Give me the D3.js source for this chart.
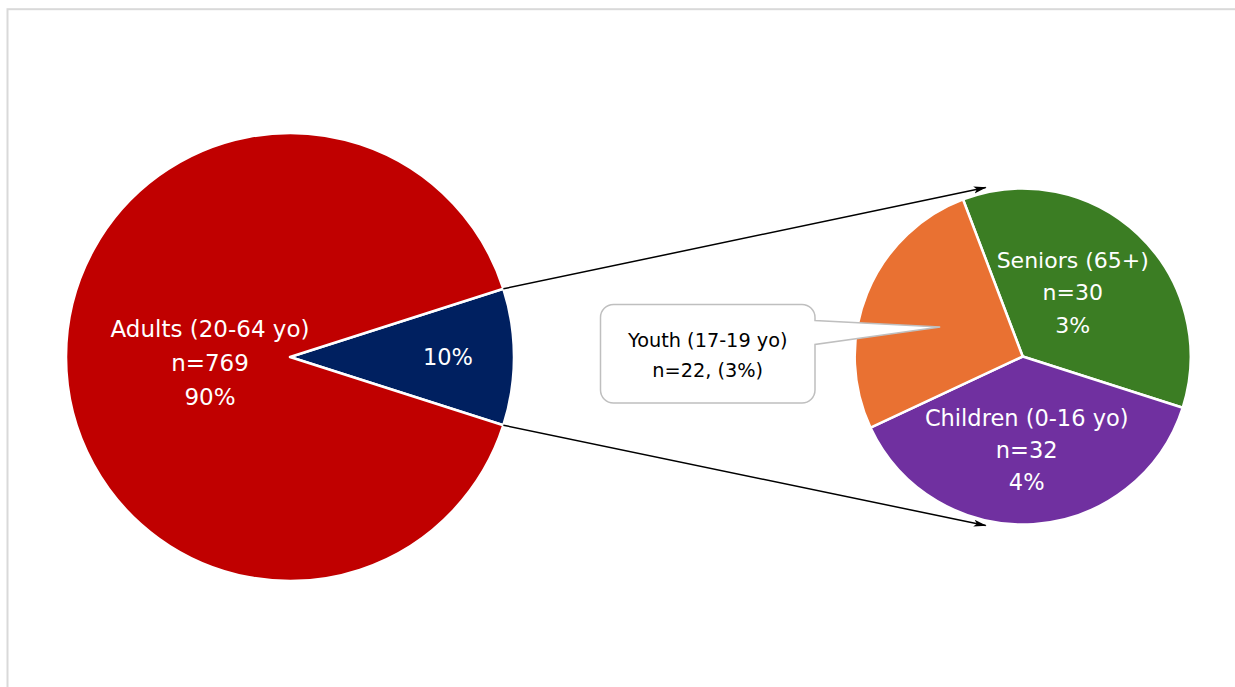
<!DOCTYPE html>
<html>
<head>
<meta charset="utf-8">
<script src="https://cdn.jsdelivr.net/npm/d3@7"></script>
<style>
  html, body { margin: 0; padding: 0; background: #fff; }
  svg { display: block; font-family: "DejaVu Sans", "Noto Sans", sans-serif; }
</style>
</head>
<body>
<svg id="chart" width="1235" height="687"></svg>
<script>
// Age groups of the full sample; the three smaller groups are split out into the second pie
const mainCategories = ["Other ages", "Adults (20-64 yo)"];
const mainCounts = [84, 769];
const mainColors = ["#002060", "#C00000"];

const detailCategories = ["Seniors (65+)", "Children (0-16 yo)", "Youth (17-19 yo)"];
const detailCounts = [30, 32, 22];
const detailColors = ["#3B7D23", "#7030A0", "#E97132"];

const mainLabelLines = [["10%"], ["Adults (20-64 yo)", "n=769", "90%"]];
const detailLabelLines = [["Seniors (65+)", "n=30", "3%"], ["Children (0-16 yo)", "n=32", "4%"], ["Youth (17-19 yo)", "n=22, (3%)"]];

const svg = d3.select("#chart");
const deg = Math.PI / 180;

// Chart area frame
svg.append("rect")
  .attr("x", 7.5).attr("y", 9.2)
  .attr("width", 1400).attr("height", 800)
  .attr("fill", "none").attr("stroke", "#d9d9d9").attr("stroke-width", 2);

// ---- Main pie ----
const mainCx = 290, mainCy = 357, mainR = 224;
const mainTotal = d3.sum(mainCounts);
const otherSpan = mainCounts[0] / mainTotal * 2 * Math.PI;
const mainStart = Math.PI / 2 - otherSpan / 2;   // "other" wedge centred at 3 o'clock

const mainPie = d3.pie().sort(null).value(d => d)
  .startAngle(mainStart).endAngle(mainStart + 2 * Math.PI);
const mainArcs = mainPie(mainCounts);
const mainArc = d3.arc().innerRadius(0).outerRadius(mainR);

const gMain = svg.append("g").attr("transform", `translate(${mainCx},${mainCy})`);
gMain.selectAll("path").data(mainArcs).join("path")
  .attr("d", mainArc)
  .attr("fill", (d, i) => mainColors[i])
  .attr("stroke", "#fff").attr("stroke-width", 2.5).attr("stroke-linejoin", "round");

// ---- Detail pie ----
const detCx = 1022.7, detCy = 356.5, detR = 168;
const detStart = -20.8 * deg;
const detPie = d3.pie().sort(null).value(d => d)
  .startAngle(detStart).endAngle(detStart + 2 * Math.PI);
const detArcs = detPie(detailCounts);
const detArc = d3.arc().innerRadius(0).outerRadius(detR);

// ---- Connector arrows from the "other" wedge to the detail pie ----
const defs = svg.append("defs");
defs.append("marker")
  .attr("id", "arrow")
  .attr("viewBox", "0 0 13 8")
  .attr("refX", 12).attr("refY", 4)
  .attr("markerWidth", 13).attr("markerHeight", 8)
  .attr("markerUnits", "userSpaceOnUse")
  .attr("orient", "auto")
  .append("path").attr("d", "M0,0.5L13,4L0,7.5L3,4Z").attr("fill", "#000");

const a0 = mainArcs[0].startAngle, a1 = mainArcs[0].endAngle;
const connectors = [
  { x1: mainCx + mainR * Math.sin(a0), y1: mainCy - mainR * Math.cos(a0), x2: detCx - 37, y2: detCy - detR - 1 },
  { x1: mainCx + mainR * Math.sin(a1), y1: mainCy - mainR * Math.cos(a1), x2: detCx - 37, y2: detCy + detR + 1 }
];
svg.selectAll("line.connector").data(connectors).join("line")
  .attr("class", "connector")
  .attr("x1", d => d.x1).attr("y1", d => d.y1)
  .attr("x2", d => d.x2).attr("y2", d => d.y2)
  .attr("stroke", "#000").attr("stroke-width", 1.5)
  .attr("marker-end", "url(#arrow)");

const gDet = svg.append("g").attr("transform", `translate(${detCx},${detCy})`);
gDet.selectAll("path").data(detArcs).join("path")
  .attr("d", detArc)
  .attr("fill", (d, i) => detailColors[i])
  .attr("stroke", "#fff").attr("stroke-width", 2.5).attr("stroke-linejoin", "round");

// ---- Labels ----
function multiline(g, x, y, lines, size, color, lh) {
  const t = g.append("text")
    .attr("x", x).attr("y", y)
    .attr("text-anchor", "middle")
    .attr("font-size", size).attr("fill", color);
  lines.forEach((s, i) => t.append("tspan").attr("x", x).attr("y", y + i * lh).text(s));
  return t;
}

// main pie labels (relative to the centre)
multiline(gMain, -80, -20.5, mainLabelLines[1], 23, "#fff", 34.3);
multiline(gMain, 158, 8, mainLabelLines[0], 22.5, "#fff", 34);

// detail pie labels
multiline(gDet, 50, -88.5, detailLabelLines[0], 22, "#fff", 32.3);
multiline(gDet, 4, 69.5, detailLabelLines[1], 22.5, "#fff", 32.2);

// ---- Callout for the Youth wedge ----
const youth = detArcs[2];
const youthMid = (youth.startAngle + youth.endAngle) / 2;
const tipX = detCx + detR * 0.53 * Math.sin(youthMid);
const tipY = detCy - detR * 0.53 * Math.cos(youthMid) + 4;

const bx = 600.5, by = 304.5, bw = 214.5, bh = 98.5, rr = 13;
const calloutPath = d3.path();
calloutPath.moveTo(bx + rr, by);
calloutPath.lineTo(bx + bw - rr, by);
calloutPath.arcTo(bx + bw, by, bx + bw, by + rr, rr);
calloutPath.lineTo(bx + bw, by + 16);
calloutPath.lineTo(tipX, tipY);
calloutPath.lineTo(bx + bw, by + 40);
calloutPath.lineTo(bx + bw, by + bh - rr);
calloutPath.arcTo(bx + bw, by + bh, bx + bw - rr, by + bh, rr);
calloutPath.lineTo(bx + rr, by + bh);
calloutPath.arcTo(bx, by + bh, bx, by + bh - rr, rr);
calloutPath.lineTo(bx, by + rr);
calloutPath.arcTo(bx, by, bx + rr, by, rr);
calloutPath.closePath();

svg.append("path")
  .attr("d", calloutPath.toString())
  .attr("fill", "#fff").attr("stroke", "#bfbfbf").attr("stroke-width", 1.5);

multiline(svg, bx + bw / 2, 347, detailLabelLines[2], 19.3, "#000", 30);
</script>
</body>
</html>
